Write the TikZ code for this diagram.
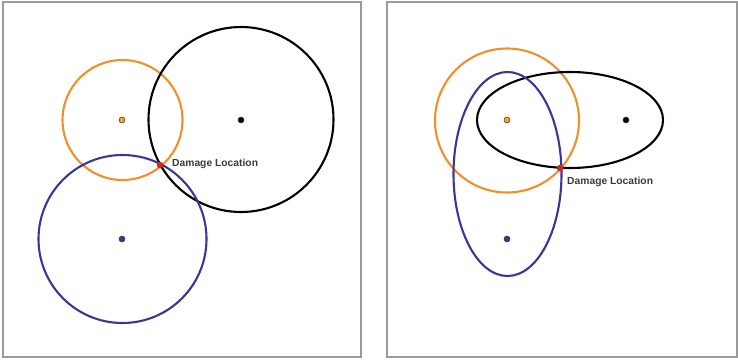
\documentclass[tikz,border=0pt]{standalone}
\usepackage{fontspec}
\setmainfont{Liberation Sans}
\definecolor{ringorange}{HTML}{F0902A}
\definecolor{ringblue}{HTML}{3B3696}
\definecolor{framegray}{HTML}{9A9A9A}
\definecolor{labelgray}{HTML}{3A3A3A}
\definecolor{hitred}{HTML}{D8231E}
\begin{document}
\begin{tikzpicture}[x=1pt,y=-1pt,
  frame/.style={draw=framegray,line width=1.3pt},
  ring/.style={line width=2.1pt},
  dot/.style={circle,inner sep=0pt,minimum size=6pt,draw=black!80,line width=0.5pt},
  hit/.style={circle,inner sep=0pt,minimum size=6.5pt,fill=hitred},
  lbl/.style={font=\fontsize{10.3}{11}\selectfont\bfseries,text=labelgray,inner sep=0pt}]
\useasboundingbox (0,0) rectangle (738,359);
% left panel
\draw[frame] (3,2) rectangle (361,357);
\draw[ring,draw=ringorange] (122.5,120) circle (60);
\draw[ring,draw=black] (241,119.5) circle (92.5);
\draw[ring,draw=ringblue] (122.5,239) circle (84);
\node[dot,fill=ringorange!80!yellow] (ly) at (122,120) {};
\node[dot,fill=black] (lk) at (241,120) {};
\node[dot,fill=ringblue] (lb) at (122,239) {};
\node[hit] (lh) at (160,165) {};
\node[lbl,anchor=west] (ll) at (172,164) {Damage Location};
% right panel
\draw[frame] (387,2) rectangle (737,357);
\draw[ring,draw=ringorange] (507,120.5) circle (72);
\draw[ring,draw=black] (570,120) ellipse (93 and 48);
\draw[ring,draw=ringblue] (507.5,174) ellipse (54 and 102);
\node[dot,fill=ringorange!80!yellow] (ry) at (507,120) {};
\node[dot,fill=black] (rk) at (626,120) {};
\node[dot,fill=ringblue] (rb) at (507,239) {};
\node[hit] (rh) at (560,168) {};
\node[lbl,anchor=west] (rl) at (567,182) {Damage Location};
\end{tikzpicture}
\end{document}
